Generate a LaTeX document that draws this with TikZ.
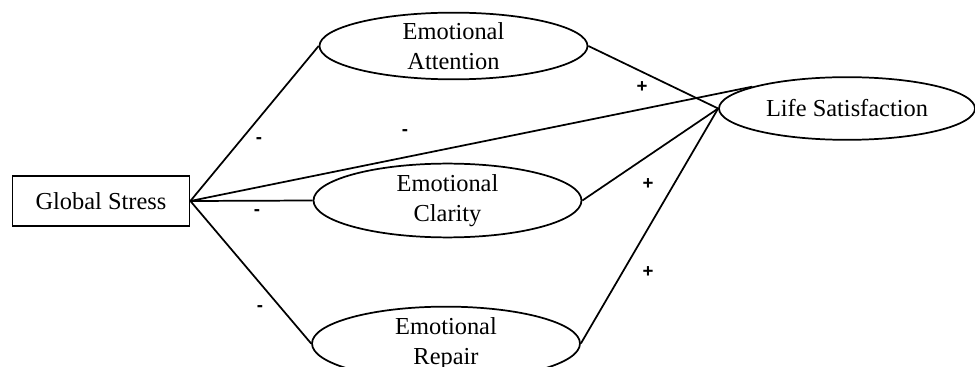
\documentclass[tikz,border=0pt]{standalone}
\usepackage{fontspec}
\setmainfont{Liberation Serif}
\newfontfamily\signfont{Liberation Sans}
\usetikzlibrary{shapes.geometric}
\tikzset{
  lat/.style={ellipse, draw, line width=1.3pt, minimum width=201pt, minimum height=46.5pt, inner sep=0pt, align=center, font=\fontsize{18.3}{22.5}\selectfont},
  obs/.style={rectangle, draw, line width=1.3pt, minimum width=132.75pt, minimum height=37.5pt, inner sep=0pt, font=\fontsize{18.3}{22.5}\selectfont},
  path/.style={line width=1.3pt},
  sign/.style={font=\signfont\fontsize{14}{16}\selectfont\bfseries, inner sep=0pt}
}
\begin{document}
\begin{tikzpicture}[x=0.75pt,y=-0.75pt]
\clip (0,0) rectangle (975,367);
\fill[white] (0,0) rectangle (975,367);
\node[obs] (gs) at (101,201) {Global Stress};
\node[lat] (att) at (453.5,46) {Emotional\\Attention};
\node[lat] (cla) at (447.5,200.5) {Emotional\\Clarity};
\node[lat] (rep) at (446,343.5) {Emotional\\Repair};
\node[lat, minimum width=192pt, minimum height=47pt] (ls) at (847,108.5) {Life Satisfaction};
\draw[path] (gs.east) -- (att.west);
\draw[path] (gs.east) -- (cla.west);
\draw[path] (gs.east) -- (rep.west);
\draw[path] (gs.east) -- (ls.167);
\draw[path] (att.east) -- (ls.west);
\draw[path] (cla.east) -- (ls.west);
\draw[path] (rep.east) -- (ls.west);
\node[sign] (s1) at (259,141) {-};
\node[sign] (s2) at (405,133) {-};
\node[sign] (s3) at (257,213) {-};
\node[sign] (s4) at (260,309) {-};
\node[sign] (s5) at (642,87) {+};
\node[sign] (s6) at (648,184) {+};
\node[sign] (s7) at (648,272) {+};
\end{tikzpicture}
\end{document}
